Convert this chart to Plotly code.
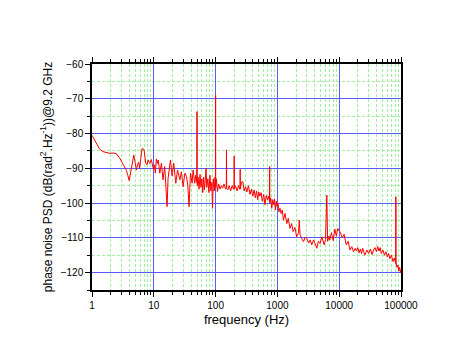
import plotly.graph_objects as go

# frequency points (Hz), one decade per line block
freq_hz = [
    1, 1.1, 1.2, 1.33, 1.5, 1.7, 1.94, 2.2, 2.48, 2.8, 3.18, 3.4, 3.6, 3.8, 3.98, 4.15, 4.35,
    4.55, 4.74, 4.95, 5.23, 5.45, 5.7, 5.9, 6.1, 6.45, 6.95, 7.4, 7.75, 8.1, 8.6, 9.15, 9.6, 9.97,
    10.3, 10.6, 11.0, 11.4, 11.8, 12.5, 13.3, 14.1, 15.0, 15.7, 16.4, 17.0, 17.5, 18.6, 19.8, 21,
    22.7, 24.2, 26.4, 28, 29.8, 31.8, 33.9, 35.5, 37.2, 39.2, 41.7, 43.2, 46, 47.5, 49.5, 50, 50.5,
    52, 54, 56, 58, 60, 62, 64, 66, 68, 70, 72, 75, 78, 81, 84, 87, 89, 92, 95, 98, 99.5,
    100, 100.5, 103, 107, 112, 118, 124, 130, 137, 145, 149, 150, 151, 158, 166, 175, 185, 195,
    199, 200, 201, 210, 222, 235, 245, 249, 250, 251, 262, 275, 290, 305, 320, 340, 360, 380, 400,
    420, 440, 460, 480, 500, 520, 545, 570, 600, 630, 660, 690, 720, 745, 750, 755, 780, 810, 840,
    870, 900, 930, 960, 990,
    1020, 1060, 1100, 1150, 1200, 1250, 1330, 1420, 1500, 1600, 1700, 1800, 1920, 2050, 2200, 2260,
    2320, 2400, 2520, 2650, 2800, 3000, 3200, 3400, 3600, 3850, 4100, 4350, 4600, 4900, 5250, 5700,
    6000, 6300, 6500, 6800, 7050, 7500, 8000, 8500, 9000, 9500,
    10000, 10500, 11200, 12000, 13000, 14000, 14900, 16000, 17000, 18200, 19000, 20000, 21000,
    22000, 23000, 24000, 25000, 26000, 28000, 30000, 32000, 34000, 36000, 38000, 40000, 42000,
    44000, 46000, 48000, 51000, 54000, 57000, 60000, 63000, 66000, 70000, 74000, 78000, 82000,
    82600, 83200, 86000, 89000, 92000, 95000, 98000, 100000,
]

# phase noise PSD (dB rad^2/Hz), same order as freq_hz
psd_db = [
    -80.5, -82.0, -83.3, -84.5, -85.2, -85.5, -85.7, -85.6, -85.8, -87.0, -89.0, -90.0, -90.6, -92.0, -93.5, -92.0, -89.5,
    -87.0, -86.2, -88.0, -90.5, -89.0, -88.2, -90.0, -88.0, -84.3, -84.6, -88.5, -89.0, -87.6, -88.6, -87.5, -89.5, -90.3,
    -89.0, -91.4, -87.3, -88.6, -87.6, -91.4, -88.5, -93.3, -89.5, -95.0, -101.0, -93.0, -90.5, -87.6, -92.2, -88.5,
    -94.3, -90.5, -93.3, -91.0, -95.3, -91.4, -92.4, -95.0, -101.0, -91.4, -94.3, -90.5, -94.3, -92.0, -94.0, -73.7, -95.0,
    -92.5, -96.0, -91.8, -95.5, -93.0, -97.0, -92.5, -96.2, -93.5, -90.0, -95.5, -93.0, -97.0, -92.0, -96.5, -94.0, -101.5, -93.0, -96.5, -92.5, -95.0,
    -69.0, -95.5, -93.0, -96.7, -94.5, -96.0, -95.0, -95.7, -94.5, -96.0, -95.5, -84.7, -95.8, -96.2, -95.0, -96.5, -95.0, -96.0,
    -95.5, -86.5, -96.0, -95.0, -96.5, -95.0, -96.0, -95.5, -90.3, -96.0, -94.0, -93.8, -96.5, -95.3, -96.8, -95.0, -97.5, -96.0, -98.0,
    -96.2, -98.5, -96.5, -99.0, -96.8, -98.0, -97.0, -99.5, -97.5, -100.5, -97.8, -99.0, -98.0, -99.5, -89.5, -100.0, -98.5, -101.5, -99.0,
    -100.5, -98.8, -102.0, -99.5, -101.0,
    -100.0, -102.5, -101.5, -103.0, -102.0, -104.9, -103.0, -105.9, -104.4, -107.3, -105.9, -108.2, -107.0, -109.7, -108.5, -104.9,
    -109.0, -109.7, -110.5, -111.1, -109.8, -110.2, -111.5, -110.6, -112.0, -110.6, -111.8, -113.0, -111.0, -111.6, -109.7, -112.0,
    -110.5, -97.7, -111.0, -109.5, -110.6, -108.5, -110.8, -107.5, -109.5, -107.3,
    -108.0, -108.5, -110.0, -109.0, -112.0, -111.0, -113.5, -112.5, -114.0, -113.0, -113.8, -112.8, -114.3,
    -113.2, -114.5, -113.0, -114.0, -115.0, -113.5, -114.5, -113.2, -114.8, -113.5, -112.8, -114.0, -112.5,
    -113.8, -112.8, -114.5, -113.5, -115.0, -114.0, -115.5, -114.5, -116.0, -115.0, -116.8, -115.8, -117.4,
    -98.2, -117.0, -118.5, -117.8, -119.5, -118.5, -120.0, -119.0,
]

assert len(freq_hz) == len(psd_db)

x_ticks = [1, 10, 100, 1000, 10000, 100000]
x_tick_labels = ["1", "10", "100", "1000", "10000", "100000"]

font_name = "Liberation Sans, Arial, sans-serif"
major_grid = "rgb(90,90,255)"
minor_grid = "rgb(160,240,160)"

fig = go.Figure()
fig.add_trace(go.Scatter(
    x=freq_hz, y=psd_db, mode="lines",
    line=dict(color="red", width=1),
    showlegend=False,
))

fig.update_xaxes(
    type="log", range=[0, 5], automargin=False,
    tickvals=x_ticks, ticktext=x_tick_labels,
    showline=True, linecolor="black", linewidth=1.5, mirror="ticks",
    ticks="outside", ticklen=5, tickcolor="black", tickwidth=1,
    showgrid=True, gridcolor=major_grid, gridwidth=1,
    minor=dict(dtick="D1", ticks="outside", ticklen=3, tickcolor="black",
               showgrid=True, gridcolor=minor_grid, griddash="3px,2px", gridwidth=1),
    zeroline=False,
    tickfont=dict(size=10, color="black"),
    title=dict(text="frequency (Hz)", font=dict(size=13, color="black"), standoff=5),
)
fig.update_yaxes(
    range=[-125, -60], dtick=10, automargin=False,
    showline=True, linecolor="black", linewidth=1.5, mirror=True,
    ticks="outside", ticklen=5, tickcolor="black", tickwidth=1,
    showgrid=True, gridcolor=major_grid, gridwidth=1,
    minor=dict(dtick=5, ticks="outside", ticklen=3, tickcolor="black",
               showgrid=True, gridcolor=minor_grid, griddash="3px,2px", gridwidth=1),
    zeroline=False,
    tickfont=dict(size=10, color="black"),
    title=dict(text="phase noise PSD (dB(rad<sup>2</sup>.Hz<sup>-1</sup>))@9.2 GHz",
               font=dict(size=12, color="black"), standoff=6),
)

# page body adds an 8px offset, margins compensate for it
fig.update_layout(
    width=459, height=363,
    margin=dict(l=84, r=66, t=56, b=81),
    paper_bgcolor="white", plot_bgcolor="white",
    font=dict(family=font_name, color="black"),
)

fig.write_html("out.html")
